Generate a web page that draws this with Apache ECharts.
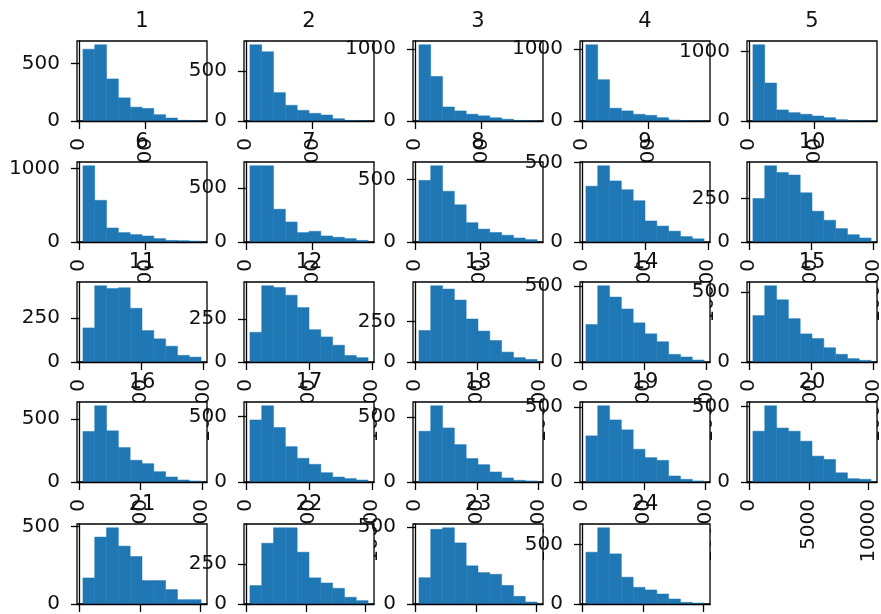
<!DOCTYPE html>
<html>
<head>
<meta charset="utf-8">
<script src="https://cdn.jsdelivr.net/npm/echarts@6/dist/echarts.min.js"></script>
<style>
html, body { margin: 0; padding: 0; background: #fff; }
#main { width: 881px; height: 614px; }
</style>
</head>
<body>
<div id="main"></div>
<script>
// histogram counts, 10 bins per panel
var titles = ['1','2','3','4','5','6','7','8','9','10','11','12','13','14','15','16','17','18','19','20','21','22','23','24'];
var counts1  = [627, 665, 367, 202, 121, 110, 55, 26, 6, 2];
var counts2  = [765, 695, 285, 158, 107, 77, 60, 23, 6, 1];
var counts3  = [1060, 620, 195, 140, 95, 72, 45, 25, 8, 2];
var counts4  = [1055, 572, 177, 140, 93, 79, 46, 14, 4, 1];
var counts5  = [1095, 546, 159, 120, 97, 72, 48, 19, 5, 1];
var counts6  = [1038, 568, 191, 128, 101, 82, 46, 22, 18, 12];
var counts7  = [704, 704, 303, 185, 87, 99, 56, 44, 31, 15];
var counts8  = [492, 608, 405, 297, 154, 103, 76, 54, 32, 19];
var counts9  = [350, 478, 383, 328, 259, 132, 100, 68, 34, 20];
var counts10 = [250, 438, 400, 385, 283, 177, 125, 77, 42, 23];
var counts11 = [194, 434, 419, 423, 306, 179, 132, 90, 38, 28];
var counts12 = [172, 441, 431, 387, 315, 187, 145, 97, 38, 25];
var counts13 = [195, 471, 451, 383, 266, 191, 133, 61, 27, 16];
var counts14 = [246, 500, 426, 348, 257, 185, 133, 50, 33, 13];
var counts15 = [332, 545, 445, 310, 201, 168, 102, 55, 24, 12];
var counts16 = [402, 606, 407, 274, 173, 146, 82, 40, 16, 8];
var counts17 = [474, 582, 416, 270, 181, 135, 71, 38, 26, 15];
var counts18 = [390, 585, 415, 287, 180, 133, 77, 31, 13, 8];
var counts19 = [307, 507, 413, 347, 218, 162, 144, 40, 18, 7];
var counts20 = [336, 504, 357, 336, 270, 171, 149, 61, 22, 18];
var counts21 = [168, 431, 491, 373, 306, 151, 151, 93, 28, 28];
var counts22 = [115, 379, 475, 475, 323, 163, 131, 98, 42, 21];
var counts23 = [171, 485, 495, 397, 248, 204, 193, 121, 50, 13];
var counts24 = [435, 640, 421, 225, 140, 118, 84, 42, 14, 8];

// data range covered by the bins of each panel
var binLo = [300, 300, 300, 300, 310, 300, 300, 305, 310, 315, 315, 312, 315, 315, 315, 318, 312, 316, 316, 327, 322, 327, 322, 322];
var binHi = [9150, 9150, 9150, 9150, 9300, 9150, 9150, 9400, 9700, 9806, 9806, 9700, 9806, 9806, 9806, 9930, 9700, 9880, 9880, 10213, 10046, 10213, 10046, 10046];

var yStep = [500, 500, 1000, 1000, 1000, 1000, 500, 500, 500, 250, 250, 250, 250, 500, 500, 500, 500, 500, 500, 500, 500, 250, 500, 500];
var xTickValues = [0, 5000, 10000];

var allCounts = [counts1, counts2, counts3, counts4, counts5, counts6, counts7, counts8,
	counts9, counts10, counts11, counts12, counts13, counts14, counts15, counts16,
	counts17, counts18, counts19, counts20, counts21, counts22, counts23, counts24];

var colLeft = [77, 244, 413, 580, 747];
var rowTop = [41, 162, 282, 402, 524];
var boxW = 130, boxH = 80;
var barColor = '#1f77b4';
var font = 'DejaVu Sans';

function plain(v) { return String(v); }

var grids = [], xAxes = [], yAxes = [], series = [], titleList = [];

for (var i = 0; i < allCounts.length; i++) {
	var r = Math.floor(i / 5), c = i % 5;
	var cnt = allCounts[i];
	var lo = binLo[i], hi = binHi[i];
	var w = (hi - lo) / cnt.length;
	var xmin = lo - 0.05 * (hi - lo), xmax = hi + 0.05 * (hi - lo);
	var ymax = 1.05 * Math.max.apply(null, cnt);

	var xt = xTickValues.filter(function (v) { return v >= xmin && v <= xmax; });
	var yt = [0, yStep[i], 2 * yStep[i]].filter(function (v) { return v <= ymax; });

	var data = [];
	for (var k = 0; k < cnt.length; k++) {
		data.push([lo + k * w, lo + (k + 1) * w, cnt[k]]);
	}

	// later panels are drawn on top of earlier ones, like the original figure
	grids.push({
		left: colLeft[c], top: rowTop[r], width: boxW, height: boxH,
		outerBoundsMode: 'none',
		show: true, backgroundColor: '#fff', borderColor: '#000', borderWidth: 1.3,
		z: 10 * i
	});
	xAxes.push({
		gridIndex: i, type: 'value', min: xmin, max: xmax, z: 10 * i + 3,
		axisLine: { show: true, onZero: false, lineStyle: { color: '#000', width: 1.3 } },
		splitLine: { show: false },
		axisTick: { show: true, length: 8, customValues: xt, lineStyle: { color: '#000', width: 1.3 } },
		axisLabel: { customValues: xt, formatter: plain, rotate: 90, margin: 17, fontSize: 20, color: '#111', fontFamily: font }
	});
	yAxes.push({
		gridIndex: i, type: 'value', min: 0, max: ymax, z: 10 * i + 3,
		axisLine: { show: true, lineStyle: { color: '#000', width: 1.3 } },
		splitLine: { show: false },
		axisTick: { show: true, length: 8, customValues: yt, lineStyle: { color: '#000', width: 1.3 } },
		axisLabel: { customValues: yt, formatter: plain, margin: 17, fontSize: 20, color: '#111', fontFamily: font }
	});
	series.push({
		type: 'custom', xAxisIndex: i, yAxisIndex: i, z: 10 * i + 1,
		clip: true, silent: true,
		renderItem: function (params, api) {
			var p0 = api.coord([api.value(0), api.value(2)]);
			var p1 = api.coord([api.value(1), 0]);
			return {
				type: 'rect',
				shape: { x: p0[0], y: p0[1], width: p1[0] - p0[0], height: p1[1] - p0[1] },
				style: { fill: barColor, stroke: barColor, lineWidth: 0.5 }
			};
		},
		data: data
	});
	titleList.push({
		text: titles[i], left: colLeft[c] + boxW / 2, top: rowTop[r] - 30,
		textAlign: 'center', padding: 0, z: 10 * i + 4,
		textStyle: { fontSize: 21, fontWeight: 'normal', color: '#111', fontFamily: font }
	});
}

var chart = echarts.init(document.getElementById('main'));
chart.setOption({
	animation: false,
	backgroundColor: '#fff',
	title: titleList,
	grid: grids,
	xAxis: xAxes,
	yAxis: yAxes,
	series: series
});
</script>
</body>
</html>
